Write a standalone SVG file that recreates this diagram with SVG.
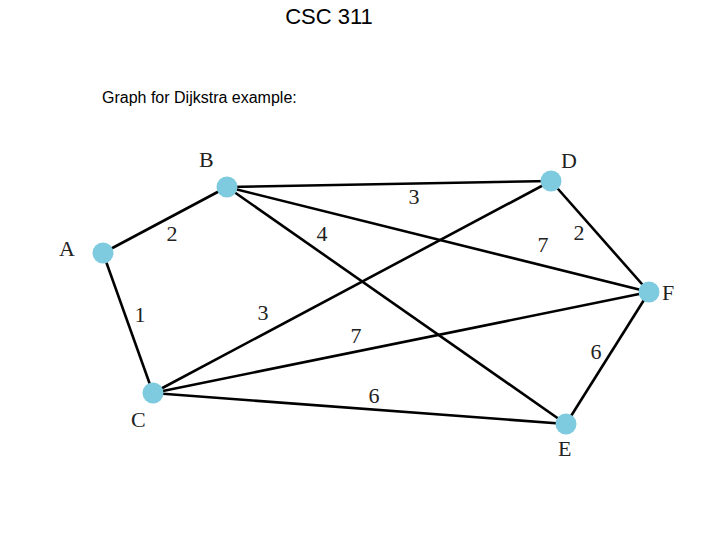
<svg xmlns="http://www.w3.org/2000/svg" width="720" height="540" viewBox="0 0 720 540">
<style>
.title{font-family:"Liberation Sans",Arial,sans-serif;fill:#000}
.lbl{font-family:"Liberation Serif","Times New Roman",serif;font-size:22px;fill:#222}
.w{font-family:"Liberation Serif","Times New Roman",serif;font-size:22px;fill:#222;text-anchor:middle}
.edge{stroke:#000;stroke-width:2.6;fill:none}
.node{fill:#7ecbe0}
</style>
<rect width="720" height="540" fill="#fff"/>
<text class="title" x="329" y="24" font-size="22" text-anchor="middle">CSC 311</text>
<text class="title" x="102" y="103" font-size="16">Graph for Dijkstra example:</text>
<g id="edges">
<line class="edge" x1="103" y1="253" x2="227" y2="187"/>
<line class="edge" x1="103" y1="253" x2="153" y2="393"/>
<line class="edge" x1="227" y1="187" x2="551" y2="181"/>
<line class="edge" x1="227" y1="187" x2="649" y2="292"/>
<line class="edge" x1="227" y1="187" x2="566" y2="424"/>
<line class="edge" x1="153" y1="393" x2="551" y2="181"/>
<line class="edge" x1="153" y1="393" x2="649" y2="292"/>
<line class="edge" x1="153" y1="393" x2="566" y2="424"/>
<line class="edge" x1="551" y1="181" x2="649" y2="292"/>
<line class="edge" x1="649" y1="292" x2="566" y2="424"/>
<text class="w" x="172" y="241">2</text>
<text class="w" x="322" y="241">4</text>
<text class="w" x="414" y="204">3</text>
<text class="w" x="543" y="252">7</text>
<text class="w" x="579" y="240">2</text>
<text class="w" x="140" y="322">1</text>
<text class="w" x="263" y="320">3</text>
<text class="w" x="356" y="343">7</text>
<text class="w" x="374" y="403">6</text>
<text class="w" x="596" y="359">6</text>
</g>
<g id="A"><circle class="node" cx="103" cy="253" r="10.5"/><text class="lbl" x="59" y="256">A</text></g>
<g id="B"><circle class="node" cx="227" cy="187" r="10.5"/><text class="lbl" x="199" y="167">B</text></g>
<g id="C"><circle class="node" cx="153" cy="393" r="10.5"/><text class="lbl" x="131" y="427">C</text></g>
<g id="D"><circle class="node" cx="551" cy="181" r="10.5"/><text class="lbl" x="561" y="168">D</text></g>
<g id="E"><circle class="node" cx="566" cy="424" r="10.5"/><text class="lbl" x="558" y="456">E</text></g>
<g id="F"><circle class="node" cx="649" cy="292" r="10.5"/><text class="lbl" x="662" y="300">F</text></g>
</svg>
